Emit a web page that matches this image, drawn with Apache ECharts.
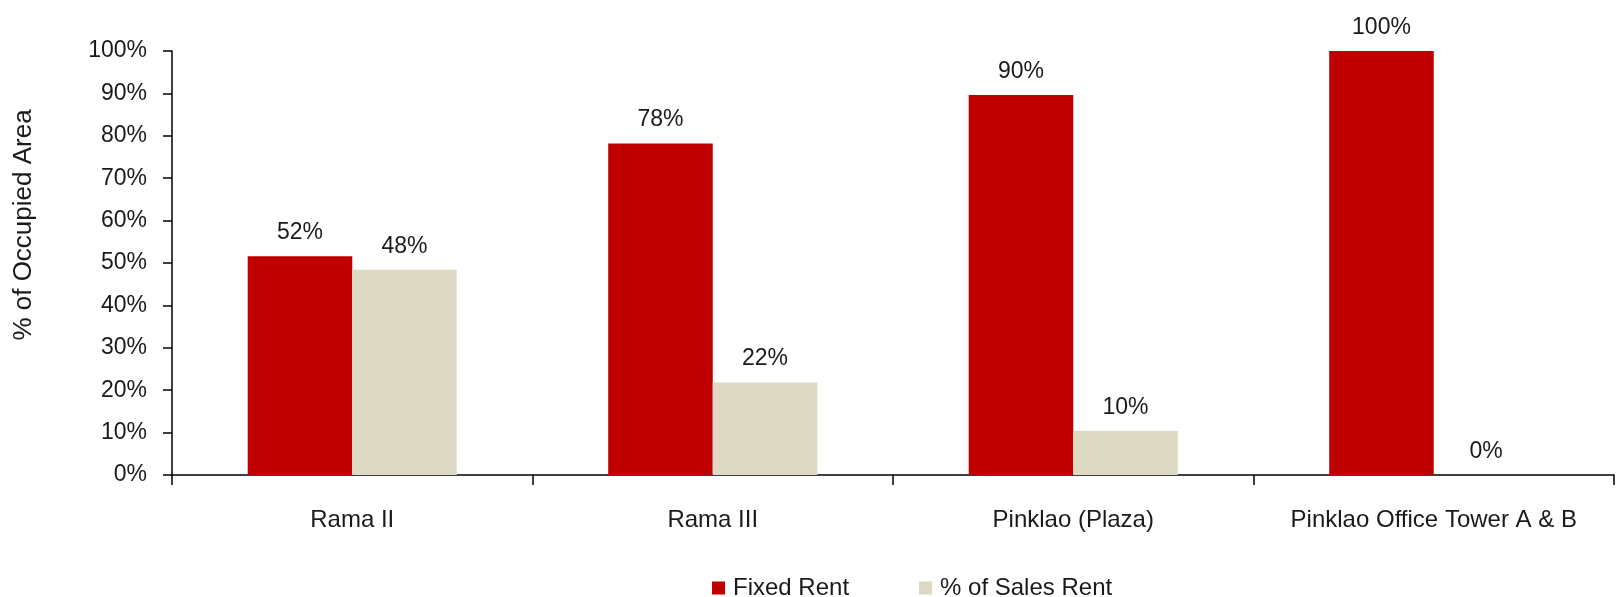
<!DOCTYPE html>
<html>
<head>
<meta charset="utf-8">
<script src="https://cdn.jsdelivr.net/npm/echarts@6/dist/echarts.min.js"></script>
<style>
html,body{margin:0;padding:0;background:#fff;}
#chart{width:1618px;height:597px;}
</style>
</head>
<body>
<div id="chart"></div>
<script>
const categories = ['Rama II', 'Rama III', 'Pinklao (Plaza)', 'Pinklao Office Tower A & B'];
const fixedRent = [51.6, 78.2, 89.6, 100];
const salesRent = [48.4, 21.8, 10.4, 0];
const seriesNames = ['Fixed Rent', '% of Sales Rent'];
const yTicks = [0, 10, 20, 30, 40, 50, 60, 70, 80, 90, 100];

const FONT = '"Liberation Sans", Arial, sans-serif';
const chart = echarts.init(document.getElementById('chart'));
const labelCfg = {
  show: true,
  position: 'top',
  distance: 12,
  color: '#1a1a1a',
  fontFamily: FONT,
  fontSize: 23,
  formatter: p => Math.round(p.value) + '%'
};
chart.setOption({
  animation: false,
  backgroundColor: '#ffffff',
  grid: { left: 172, right: 4, top: 51, bottom: 122, containLabel: false },
  legend: {
    data: seriesNames,
    left: 707,
    top: 571,
    itemWidth: 13,
    itemHeight: 13,
    itemGap: 70,
    icon: 'rect',
    textStyle: { fontFamily: FONT, fontSize: 24, color: '#1a1a1a', padding: [0, 0, 0, 3] }
  },
  xAxis: {
    type: 'category',
    data: categories,
    boundaryGap: true,
    axisLine: { lineStyle: { color: '#000', width: 1.5 } },
    axisTick: { show: true, length: 10, alignWithLabel: false, lineStyle: { color: '#000', width: 1.5 } },
    axisLabel: { margin: 33, color: '#1a1a1a', fontFamily: FONT, fontSize: 24, interval: 0 }
  },
  yAxis: {
    type: 'value',
    min: 0,
    max: 100,
    interval: 10,
    splitLine: { show: false },
    axisLine: { show: true, lineStyle: { color: '#000', width: 1.5 } },
    axisTick: { show: true, length: 9, lineStyle: { color: '#000', width: 1.5 } },
    axisLabel: {
      margin: 25,
      color: '#1a1a1a',
      fontFamily: FONT,
      fontSize: 23,
      formatter: v => (yTicks.indexOf(v) >= 0 ? v + '%' : '')
    }
  },
  graphic: [{
    type: 'text',
    x: 24,
    y: 225,
    rotation: Math.PI / 2,
    style: {
      text: '% of Occupied Area',
      fontFamily: FONT,
      fontSize: 26,
      fill: '#1a1a1a',
      align: 'center',
      verticalAlign: 'middle'
    }
  }],
  series: [
    {
      name: seriesNames[0],
      type: 'bar',
      data: fixedRent,
      barGap: '0%',
      barCategoryGap: '42%',
      itemStyle: { color: '#C00000' },
      label: labelCfg
    },
    {
      name: seriesNames[1],
      type: 'bar',
      data: salesRent,
      itemStyle: { color: '#DDD9C3' },
      label: labelCfg
    }
  ]
});
</script>
</body>
</html>
